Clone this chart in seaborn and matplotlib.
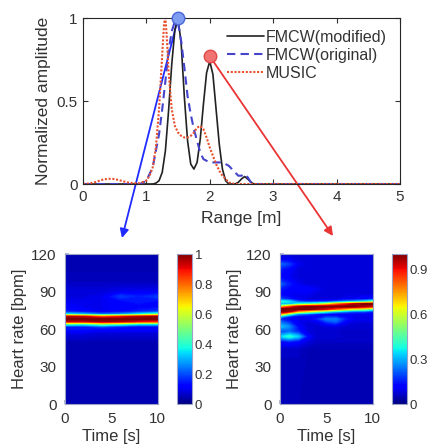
import numpy as np
import matplotlib
matplotlib.use("Agg")
import matplotlib.pyplot as plt
import seaborn as sns
from matplotlib.patches import ConnectionPatch
from matplotlib.colors import Normalize
from matplotlib.cm import ScalarMappable

# ---- range profiles (normalized amplitude vs. range in metres) ----
mod_range = [0, 1.1, 1.15, 1.2, 1.25, 1.3, 1.35, 1.4, 1.45, 1.5, 1.55, 1.6, 1.65, 1.7,
             1.75, 1.8, 1.85, 1.9, 1.95, 2.0, 2.05, 2.1, 2.15, 2.2, 2.25, 2.3, 2.4,
             2.45, 2.5, 2.55, 2.6, 2.65, 2.7, 5]
mod_amp = [0, 0, 0.005, 0.02, 0.07, 0.2, 0.44, 0.72, 0.93, 1.0, 0.84, 0.52, 0.26, 0.12,
           0.09, 0.13, 0.27, 0.48, 0.67, 0.74, 0.66, 0.45, 0.24, 0.09, 0.02, 0.0, 0.0,
           0.01, 0.03, 0.045, 0.03, 0.01, 0.0, 0]

orig_range = [0, 0.9, 1.0, 1.1, 1.2, 1.25, 1.3, 1.35, 1.4, 1.45, 1.5, 1.55, 1.6, 1.65,
              1.7, 1.75, 1.8, 1.85, 1.9, 2.0, 2.1, 2.2, 2.3, 2.4, 2.45, 2.5, 2.55, 2.6,
              2.65, 2.7, 5]
orig_amp = [0, 0, 0.02, 0.1, 0.3, 0.45, 0.62, 0.8, 0.92, 0.98, 0.97, 0.86, 0.7, 0.53,
            0.42, 0.33, 0.26, 0.19, 0.15, 0.13, 0.13, 0.13, 0.11, 0.07, 0.05, 0.05,
            0.06, 0.04, 0.01, 0, 0]

music_range = [0, 0.1, 0.2, 0.3, 0.4, 0.5, 0.6, 0.7, 0.8, 0.9, 1.0, 1.05, 1.1, 1.15,
               1.2, 1.25, 1.28, 1.3, 1.32, 1.35, 1.4, 1.45, 1.5, 1.55, 1.6, 1.65, 1.7,
               1.75, 1.8, 1.85, 1.9, 1.95, 2.0, 2.05, 2.1, 2.15, 2.2, 2.25, 2.3, 2.4, 5]
music_amp = [0, 0.003, 0.012, 0.025, 0.032, 0.03, 0.02, 0.01, 0.005, 0.005, 0.02, 0.05,
             0.1, 0.22, 0.45, 0.78, 0.97, 1.0, 0.9, 0.68, 0.45, 0.35, 0.31, 0.29, 0.28,
             0.28, 0.29, 0.31, 0.34, 0.35, 0.33, 0.28, 0.22, 0.17, 0.12, 0.08, 0.05,
             0.03, 0.01, 0, 0]

series_labels = ["FMCW(modified)", "FMCW(original)", "MUSIC"]

# selected targets (range, amplitude)
marker_range = [1.5, 2.0]
marker_amp = [1.0, 0.77]

# ---- heart-rate maps (rows: bpm, columns: time in s) ----
time_left = [0, 2, 4, 6, 8, 10]
bpm_left = [0, 50, 56, 60, 62, 64, 66, 68, 70, 72, 74, 78, 82, 86, 90, 96, 105, 120]
hr_left = [
    [.05, .05, .05, .05, .05, .05],
    [.05, .05, .05, .05, .05, .05],
    [.08, .08, .07, .07, .07, .07],
    [.14, .14, .12, .12, .12, .12],
    [.15, .15, .20, .15, .12, .12],
    [.45, .40, .50, .45, .35, .35],
    [.92, .92, .98, .95, .88, .85],
    [1.0, 1.0, 1.0, 1.0, 1.0, 1.0],
    [.95, .92, .80, .88, .95, .98],
    [.35, .30, .22, .26, .35, .45],
    [.15, .12, .10, .12, .15, .18],
    [.12, .10, .10, .12, .12, .12],
    [.10, .10, .10, .12, .15, .12],
    [.08, .08, .10, .18, .15, .18],
    [.08, .08, .08, .10, .10, .10],
    [.06, .06, .06, .06, .06, .06],
    [.05, .05, .05, .05, .05, .05],
    [.05, .05, .05, .05, .05, .05],
]

time_right = [0, 1, 2, 3, 4, 5, 6, 7, 8, 9, 10]
bpm_right = [0, 44, 50, 54, 58, 62, 66, 68, 70, 72, 74, 76, 78, 80, 82, 84, 88, 92,
             96, 102, 108, 112, 116, 120]
hr_right = [
    [.05, .05, .05, .05, .05, .05, .05, .05, .05, .05, .05],
    [.06, .06, .06, .05, .05, .05, .05, .05, .05, .05, .05],
    [.12, .15, .12, .08, .06, .06, .06, .06, .06, .06, .06],
    [.32, .40, .32, .12, .07, .07, .07, .06, .06, .06, .06],
    [.18, .22, .15, .08, .07, .07, .07, .06, .06, .06, .06],
    [.32, .26, .12, .08, .07, .08, .08, .07, .07, .07, .07],
    [.22, .15, .10, .08, .10, .18, .22, .12, .08, .08, .08],
    [.15, .12, .10, .10, .15, .25, .25, .15, .10, .10, .10],
    [.30, .15, .10, .10, .12, .15, .15, .12, .10, .10, .10],
    [.75, .45, .25, .20, .15, .12, .10, .10, .10, .10, .10],
    [1.0, .95, .70, .60, .50, .40, .30, .25, .20, .20, .15],
    [1.0, 1.0, 1.0, 1.0, .95, .90, .80, .70, .60, .55, .45],
    [.60, .80, .95, 1.0, 1.0, 1.0, 1.0, 1.0, 1.0, .95, .90],
    [.25, .30, .40, .45, .50, .60, .75, .85, .95, 1.0, 1.0],
    [.40, .35, .20, .15, .15, .15, .20, .25, .30, .35, .45],
    [.20, .15, .10, .08, .08, .08, .08, .10, .10, .12, .15],
    [.12, .10, .10, .10, .08, .08, .08, .08, .08, .08, .08],
    [.15, .12, .12, .12, .10, .08, .08, .08, .08, .08, .08],
    [.22, .15, .10, .08, .08, .08, .08, .08, .08, .08, .08],
    [.12, .10, .08, .08, .08, .08, .08, .08, .08, .08, .08],
    [.15, .12, .08, .08, .08, .08, .08, .08, .08, .08, .08],
    [.22, .18, .10, .08, .08, .08, .08, .08, .08, .08, .08],
    [.10, .10, .08, .08, .08, .08, .08, .08, .08, .08, .08],
    [.08, .08, .08, .08, .08, .08, .08, .08, .08, .08, .08],
]

cbar_ticks_left = [0, 0.2, 0.4, 0.6, 0.8, 1]
cbar_labels_left = ["0", "0.2", "0.4", "0.6", "0.8", "1"]
cbar_ticks_right = [0, 0.3, 0.6, 0.9]
cbar_labels_right = ["0", "0.3", "0.6", "0.9"]

# ---- style ----
sns.set_theme(style="white")
plt.rcParams["font.family"] = ["Liberation Sans", "DejaVu Sans"]
TXT = "#333333"
plt.rcParams.update({
    "text.color": TXT, "axes.labelcolor": TXT,
    "xtick.color": TXT, "ytick.color": TXT,
    "axes.edgecolor": "#262626", "axes.linewidth": 0.8,
})

fig = plt.figure(figsize=(4.3, 4.45), dpi=100)
fig.patch.set_facecolor("white")

# ---- range profile panel ----
ax = fig.add_axes([0.193, 0.5865, 0.737, 0.373])
ax.patch.set_alpha(0)
sns.lineplot(x=mod_range, y=mod_amp, ax=ax, color="#222222", lw=1.2,
             sort=False, estimator=None, label=series_labels[0])
sns.lineplot(x=orig_range, y=orig_amp, ax=ax, color="#4444cc", lw=1.5,
             ls=(0, (4, 2.5)), sort=False, estimator=None, label=series_labels[1])
sns.lineplot(x=music_range, y=music_amp, ax=ax, color="#e8502e", lw=1.5,
             ls=(0, (1, 0.8)), sort=False, estimator=None, label=series_labels[2])

ax.plot(marker_range[0], marker_amp[0], "o", ms=9, mfc="#7f9df0", mec="#4a66d8",
        mew=1.0, clip_on=False, zorder=6)
ax.plot(marker_range[1], marker_amp[1], "o", ms=9, mfc="#f27272", mec="#e04848",
        mew=1.0, clip_on=False, zorder=6)

ax.set_xlim(0, 5)
ax.set_ylim(0, 1)
ax.set_xticks([0, 1, 2, 3, 4, 5])
ax.set_yticks([0, 0.5, 1])
ax.set_yticklabels(["0", "0.5", "1"])
ax.tick_params(direction="in", top=True, right=True, length=3.5, width=0.8,
               labelsize=11, pad=4, bottom=True, left=True)
ax.set_xlabel("Range [m]", fontsize=12.5, labelpad=5)
ax.set_ylabel("Normalized amplitude", fontsize=12.5, labelpad=4)
ax.legend(loc="upper right", bbox_to_anchor=(0.96, 0.93), frameon=False,
          fontsize=11.5, handlelength=2.3, handletextpad=0.15, labelspacing=0.2,
          borderaxespad=0, borderpad=0)


# ---- heart-rate maps ----
def draw_map(hax, cax, t, bpm, z, ticks, labels):
    norm = Normalize(0, 1)
    hax.contourf(t, bpm, np.array(z), levels=np.linspace(0, 1.001, 121),
                 cmap="jet", norm=norm)
    hax.set_xlim(0, 10)
    hax.set_ylim(0, 120)
    hax.set_xticks([0, 5, 10])
    hax.set_yticks([0, 30, 60, 90, 120])
    hax.tick_params(direction="in", length=3, labelsize=11, pad=6,
                    bottom=True, left=True, color="#aab0cc")
    for s in hax.spines.values():
        s.set_color("#9aa2c8")
        s.set_linewidth(0.8)
    hax.set_xlabel("Time [s]", fontsize=12, labelpad=2)
    hax.set_ylabel("Heart rate [bpm]", fontsize=12, labelpad=3)
    cb = fig.colorbar(ScalarMappable(norm=norm, cmap="jet"), cax=cax)
    cb.outline.set_edgecolor("#9aa2c8")
    cb.outline.set_linewidth(0.8)
    cb.set_ticks(ticks, labels=labels)
    cax.tick_params(length=0, labelsize=9.5, pad=2)


ax_l = fig.add_axes([0.151, 0.0921, 0.216, 0.337])
cax_l = fig.add_axes([0.4116, 0.0921, 0.0349, 0.337])
draw_map(ax_l, cax_l, time_left, bpm_left, hr_left, cbar_ticks_left, cbar_labels_left)

ax_r = fig.add_axes([0.651, 0.0921, 0.216, 0.337])
cax_r = fig.add_axes([0.9116, 0.0921, 0.0349, 0.337])
draw_map(ax_r, cax_r, time_right, bpm_right, hr_right, cbar_ticks_right, cbar_labels_right)

# ---- arrows from the selected targets down to their maps ----
for i, (col, tip) in enumerate([("#1f2bff", (122, 238)), ("#ea3434", (333, 236))]):
    con = ConnectionPatch(xyA=(marker_range[i], marker_amp[i]), coordsA=ax.transData,
                          xyB=(tip[0] / 430, 1 - tip[1] / 445), coordsB=fig.transFigure,
                          arrowstyle="-|>", mutation_scale=13, color=col, lw=1.3,
                          shrinkA=0, shrinkB=0, zorder=-1)
    fig.add_artist(con)

fig.savefig("out.png", dpi=100)
